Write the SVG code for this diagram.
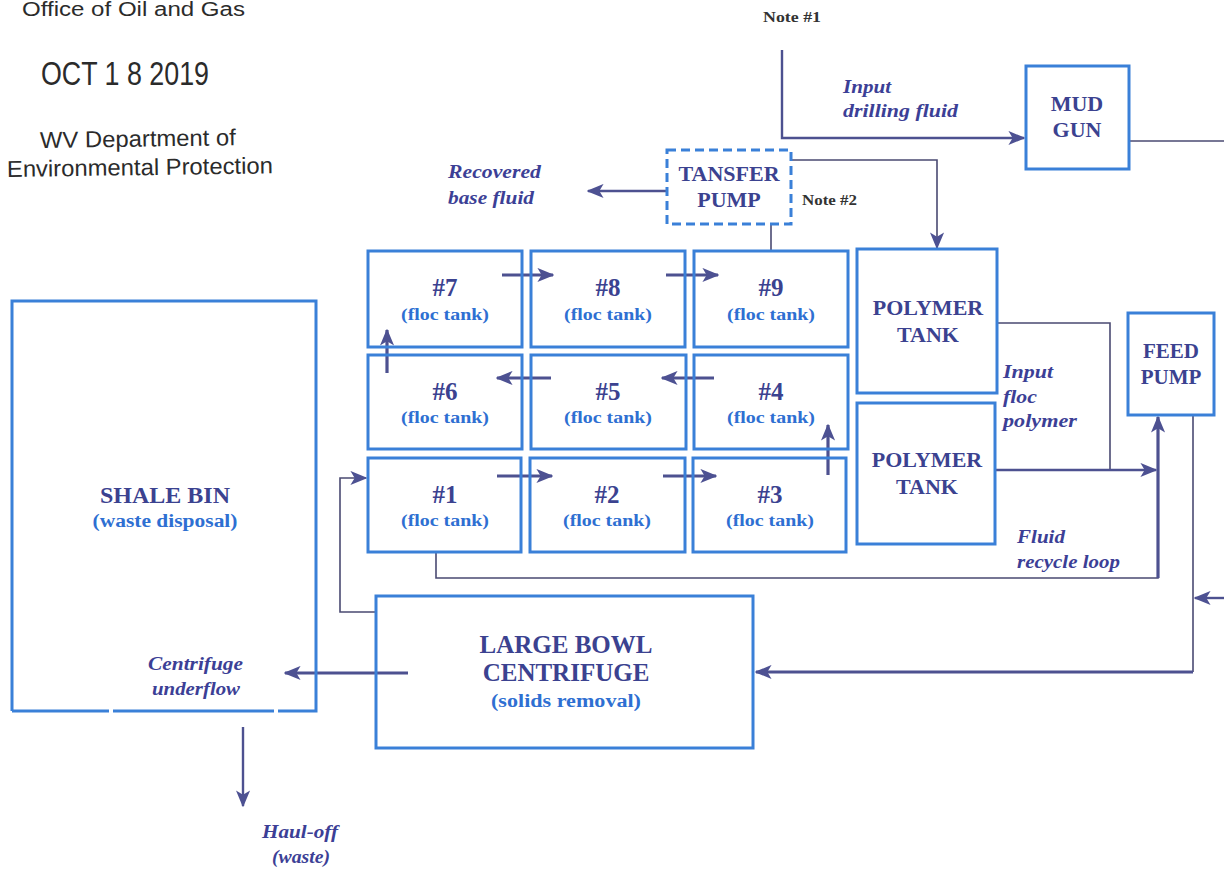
<svg xmlns="http://www.w3.org/2000/svg" width="1224" height="871" viewBox="0 0 1224 871">
<defs>
<style>
.box{fill:none;stroke:#3a80d8;stroke-width:3}
.dash{stroke-dasharray:9 5}
.hd{font-family:"Liberation Serif",serif;font-weight:bold;fill:#3b4290;text-anchor:middle}
.sub{font-family:"Liberation Serif",serif;font-weight:bold;fill:#2e6fd2;text-anchor:middle}
.lab{font-family:"Liberation Serif",serif;font-weight:bold;font-style:italic;fill:#3c3f96;font-size:19px}
.stamp{font-family:"Liberation Sans",Arial,sans-serif;fill:#2b2b2b}
.note{font-family:"Liberation Serif",serif;font-weight:bold;fill:#333;font-size:14px}
.c{fill:none;stroke:#4a4a72;stroke-width:1.6}
.m{stroke:#4d5190;stroke-width:2.4}
.t{stroke:#4d5190;stroke-width:3.2}
</style>
<marker id="ah" viewBox="0 0 12 10" refX="11" refY="5" markerWidth="17" markerHeight="15" markerUnits="userSpaceOnUse" orient="auto">
<path d="M0,0 L12,5 L0,10 L3,5 z" fill="#4d5192"/>
</marker>
</defs>
<rect width="1224" height="871" fill="#ffffff"/>

<g id="stamp">
<text class="stamp" x="22" y="16" font-size="20" textLength="223" lengthAdjust="spacingAndGlyphs">Office of Oil and Gas</text>
<text class="stamp" x="41" y="85" font-size="34" textLength="168" lengthAdjust="spacingAndGlyphs">OCT 1 8 2019</text>
<text class="stamp" x="40" y="148" font-size="23" textLength="196" lengthAdjust="spacingAndGlyphs" transform="rotate(-0.8 40 148)">WV Department of</text>
<text class="stamp" x="7" y="177" font-size="23" textLength="266" lengthAdjust="spacingAndGlyphs" transform="rotate(-0.8 7 177)">Environmental Protection</text>
</g>

<g id="connectors">
<path class="c m" d="M782,50 V138 H1024" marker-end="url(#ah)"/>
<path class="c" d="M1129,141 H1224"/>
<path class="c" d="M791,160 H937 V248" marker-end="url(#ah)"/>
<path class="c m" d="M667,191 H588" marker-end="url(#ah)"/>
<path class="c" stroke-width="1.2" d="M771,224 V252"/>
<path class="c t" d="M502,275 H553" marker-end="url(#ah)"/>
<path class="c t" d="M666,275 H718" marker-end="url(#ah)"/>
<path class="c t" d="M714,378 H662" marker-end="url(#ah)"/>
<path class="c t" d="M551,378 H497" marker-end="url(#ah)"/>
<path class="c t" d="M387,373 V330" marker-end="url(#ah)"/>
<path class="c t" d="M497,476 H552" marker-end="url(#ah)"/>
<path class="c t" d="M663,476 H716" marker-end="url(#ah)"/>
<path class="c t" d="M828,475 V425" marker-end="url(#ah)"/>
<path class="c" d="M376,612 H340 V478 H366" marker-end="url(#ah)"/>
<path class="c" d="M436,552 V578 H1158 V417" marker-end="url(#ah)"/>
<path class="c t" d="M1158,578 V417"/>
<path class="c" d="M997,323 H1110 V470"/>
<path class="c m" d="M995,470 H1156" marker-end="url(#ah)"/>
<path class="c" d="M1193,415 V672"/>
<path class="c t" d="M1193,672 H756" marker-end="url(#ah)"/>
<path class="c m" d="M1224,598 H1195" marker-end="url(#ah)"/>
<path class="c t" d="M408,673 H285" marker-end="url(#ah)"/>
<path class="c m" d="M243,727 V806" marker-end="url(#ah)"/>
</g>

<g id="labels">
<text class="note" x="763" y="22" textLength="58" lengthAdjust="spacingAndGlyphs">Note #1</text>
<text class="note" x="802" y="205" textLength="55" lengthAdjust="spacingAndGlyphs">Note #2</text>
<text class="lab" x="843" y="93" textLength="48" lengthAdjust="spacingAndGlyphs">Input</text>
<text class="lab" x="843" y="117" textLength="115" lengthAdjust="spacingAndGlyphs">drilling fluid</text>
<text class="lab" x="448" y="178" textLength="93" lengthAdjust="spacingAndGlyphs">Recovered</text>
<text class="lab" x="448" y="204" textLength="86" lengthAdjust="spacingAndGlyphs">base fluid</text>
<text class="lab" x="1003" y="378" textLength="50" lengthAdjust="spacingAndGlyphs">Input</text>
<text class="lab" x="1003" y="403" textLength="34" lengthAdjust="spacingAndGlyphs">floc</text>
<text class="lab" x="1003" y="427" textLength="74" lengthAdjust="spacingAndGlyphs">polymer</text>
<text class="lab" x="1017" y="543" textLength="48" lengthAdjust="spacingAndGlyphs">Fluid</text>
<text class="lab" x="1017" y="568" textLength="103" lengthAdjust="spacingAndGlyphs">recycle loop</text>
<text class="lab" x="148" y="670" textLength="95" lengthAdjust="spacingAndGlyphs">Centrifuge</text>
<text class="lab" x="152" y="695" textLength="88" lengthAdjust="spacingAndGlyphs">underflow</text>
<text class="lab" x="262" y="838" textLength="76" lengthAdjust="spacingAndGlyphs">Haul-off</text>
<text class="lab" x="272" y="863" textLength="58" lengthAdjust="spacingAndGlyphs">(waste)</text>
</g>

<g id="mud-gun">
<rect class="box" x="1026" y="66" width="103" height="103"/>
<text class="hd" x="1077" y="111" font-size="22">MUD</text>
<text class="hd" x="1077" y="137" font-size="22">GUN</text>
</g>

<g id="transfer-pump">
<rect class="box dash" x="667" y="150" width="124" height="74"/>
<text class="hd" x="729" y="181" font-size="22">TANSFER</text>
<text class="hd" x="729" y="207" font-size="22">PUMP</text>
</g>

<g id="tank7">
<rect class="box" x="368" y="251" width="154" height="96"/>
<text class="hd" x="445" y="296" font-size="25">#7</text>
<text class="sub" x="445" y="320" font-size="17" textLength="88" lengthAdjust="spacingAndGlyphs">(floc tank)</text>
</g>
<g id="tank8">
<rect class="box" x="531" y="251" width="154" height="96"/>
<text class="hd" x="608" y="296" font-size="25">#8</text>
<text class="sub" x="608" y="320" font-size="17" textLength="88" lengthAdjust="spacingAndGlyphs">(floc tank)</text>
</g>
<g id="tank9">
<rect class="box" x="694" y="251" width="154" height="96"/>
<text class="hd" x="771" y="296" font-size="25">#9</text>
<text class="sub" x="771" y="320" font-size="17" textLength="88" lengthAdjust="spacingAndGlyphs">(floc tank)</text>
</g>
<g id="tank6">
<rect class="box" x="368" y="355" width="154" height="94"/>
<text class="hd" x="445" y="400" font-size="25">#6</text>
<text class="sub" x="445" y="423" font-size="17" textLength="88" lengthAdjust="spacingAndGlyphs">(floc tank)</text>
</g>
<g id="tank5">
<rect class="box" x="531" y="355" width="155" height="94"/>
<text class="hd" x="608" y="400" font-size="25">#5</text>
<text class="sub" x="608" y="423" font-size="17" textLength="88" lengthAdjust="spacingAndGlyphs">(floc tank)</text>
</g>
<g id="tank4">
<rect class="box" x="694" y="355" width="154" height="94"/>
<text class="hd" x="771" y="400" font-size="25">#4</text>
<text class="sub" x="771" y="423" font-size="17" textLength="88" lengthAdjust="spacingAndGlyphs">(floc tank)</text>
</g>
<g id="tank1">
<rect class="box" x="368" y="458" width="153" height="94"/>
<text class="hd" x="445" y="503" font-size="25">#1</text>
<text class="sub" x="445" y="526" font-size="17" textLength="88" lengthAdjust="spacingAndGlyphs">(floc tank)</text>
</g>
<g id="tank2">
<rect class="box" x="530" y="458" width="155" height="94"/>
<text class="hd" x="607" y="503" font-size="25">#2</text>
<text class="sub" x="607" y="526" font-size="17" textLength="88" lengthAdjust="spacingAndGlyphs">(floc tank)</text>
</g>
<g id="tank3">
<rect class="box" x="693" y="458" width="153" height="94"/>
<text class="hd" x="770" y="503" font-size="25">#3</text>
<text class="sub" x="770" y="526" font-size="17" textLength="88" lengthAdjust="spacingAndGlyphs">(floc tank)</text>
</g>

<g id="polymer-tank-1">
<rect class="box" x="857" y="249" width="140" height="144"/>
<text class="hd" x="928" y="315" font-size="22">POLYMER</text>
<text class="hd" x="928" y="342" font-size="22">TANK</text>
</g>
<g id="polymer-tank-2">
<rect class="box" x="857" y="403" width="138" height="141"/>
<text class="hd" x="927" y="467" font-size="22">POLYMER</text>
<text class="hd" x="927" y="494" font-size="22">TANK</text>
</g>

<g id="feed-pump">
<rect class="box" x="1128" y="313" width="86" height="102"/>
<text class="hd" x="1171" y="358" font-size="21">FEED</text>
<text class="hd" x="1171" y="384" font-size="21">PUMP</text>
</g>

<g id="shale-bin">
<path class="box" d="M12,711 V301 H316 V711 H278 M274,711 H113 M109,711 H12"/>
<text class="hd" x="165" y="503" font-size="24">SHALE BIN</text>
<text class="sub" x="165" y="527" font-size="18" textLength="145" lengthAdjust="spacingAndGlyphs">(waste disposal)</text>
</g>

<g id="centrifuge">
<rect class="box" x="376" y="596" width="377" height="152"/>
<text class="hd" x="566" y="653" font-size="25">LARGE BOWL</text>
<text class="hd" x="566" y="681" font-size="25">CENTRIFUGE</text>
<text class="sub" x="566" y="707" font-size="18" textLength="150" lengthAdjust="spacingAndGlyphs">(solids removal)</text>
</g>
</svg>
